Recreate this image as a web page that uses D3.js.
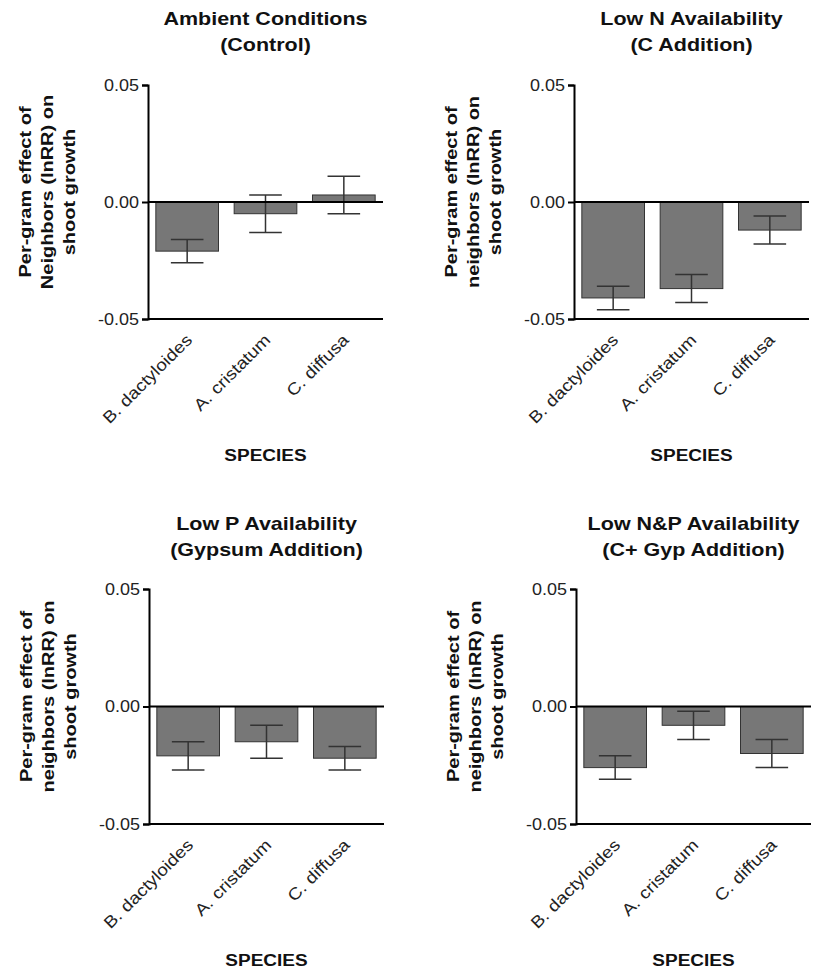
<!DOCTYPE html>
<html>
<head>
<meta charset="utf-8">
<script src="https://cdn.jsdelivr.net/npm/d3@7"></script>
<style>
  body { margin: 0; background: #fff; }
  svg { display: block; font-family: "Liberation Sans", Arial, sans-serif; }
</style>
</head>
<body>
<svg class="chart" width="816" height="970"></svg>
<script>
// species on the x axis
let species = ["B. dactyloides", "A. cristatum", "C. diffusa"];
let yTicks = [-0.05, 0.00, 0.05];

// means and standard errors per treatment
let controlMean = [-0.021, -0.005, 0.003];
let controlSE = [0.005, 0.008, 0.008];
let carbonMean = [-0.041, -0.037, -0.012];
let carbonSE = [0.005, 0.006, 0.006];
let gypsumMean = [-0.021, -0.015, -0.022];
let gypsumSE = [0.006, 0.007, 0.005];
let bothMean = [-0.026, -0.008, -0.020];
let bothSE = [0.005, 0.006, 0.006];

let titles = [
  ["Ambient Conditions", "(Control)"],
  ["Low N Availability", "(C Addition)"],
  ["Low P Availability", "(Gypsum Addition)"],
  ["Low N&P Availability", "(C+ Gyp Addition)"]
];
let yLabels = [
  ["Per-gram effect of", "Neighbors (lnRR) on", "shoot growth"],
  ["Per-gram effect of", "neighbors (lnRR) on", "shoot growth"],
  ["Per-gram effect of", "neighbors (lnRR) on", "shoot growth"],
  ["Per-gram effect of", "neighbors (lnRR) on", "shoot growth"]
];
let means = [controlMean, carbonMean, gypsumMean, bothMean];
let errors = [controlSE, carbonSE, gypsumSE, bothSE];

// where each panel's plot area sits
let panels = [
  {left: 148, top: 85, bottom: 319, titleY: 25},
  {left: 574, top: 85, bottom: 319, titleY: 25},
  {left: 149, top: 589, bottom: 824, titleY: 530},
  {left: 576, top: 589, bottom: 824, titleY: 530}
];

let svg = d3.select(".chart");
let plotWidth = 235;
let fmt = d3.format(".2f");
// the original figure's lettering is a little squashed vertically
let squash = " scale(1,0.87)";

for (let p = 0; p < panels.length; p++) {
  drawPanel(p);
}

function drawPanel(p) {
  let pos = panels[p];
  let height = pos.bottom - pos.top;
  let g = svg.append("g").attr("transform", "translate(" + pos.left + "," + pos.top + ")");

  let x = d3.scaleBand().domain(species).range([0, plotWidth]).paddingInner(0.2).paddingOuter(0.1);
  let y = d3.scaleLinear().domain([-0.05, 0.05]).range([height, 0]);

  let rows = species.map(function(s, i) {
    return {name: s, value: means[p][i], se: errors[p][i]};
  });

  // bars
  g.selectAll(".bar")
    .data(rows)
    .enter()
    .append("rect")
    .attr("class", "bar")
    .attr("x", function(d) { return x(d.name); })
    .attr("y", function(d) { return y(Math.max(0, d.value)); })
    .attr("width", x.bandwidth())
    .attr("height", function(d) { return Math.abs(y(d.value) - y(0)); })
    .style("fill", "#777777")
    .style("stroke", "#333")
    .style("stroke-width", 1);

  // error bars
  let capHalf = x.bandwidth() * 0.26;
  let err = g.selectAll(".err").data(rows).enter().append("g").attr("class", "err")
    .style("stroke", "#333").style("stroke-width", 1.5);
  err.append("line")
    .attr("x1", function(d) { return x(d.name) + x.bandwidth() / 2; })
    .attr("x2", function(d) { return x(d.name) + x.bandwidth() / 2; })
    .attr("y1", function(d) { return y(d.value + d.se); })
    .attr("y2", function(d) { return y(d.value - d.se); });
  err.append("line")
    .attr("x1", function(d) { return x(d.name) + x.bandwidth() / 2 - capHalf; })
    .attr("x2", function(d) { return x(d.name) + x.bandwidth() / 2 + capHalf; })
    .attr("y1", function(d) { return y(d.value + d.se); })
    .attr("y2", function(d) { return y(d.value + d.se); });
  err.append("line")
    .attr("x1", function(d) { return x(d.name) + x.bandwidth() / 2 - capHalf; })
    .attr("x2", function(d) { return x(d.name) + x.bandwidth() / 2 + capHalf; })
    .attr("y1", function(d) { return y(d.value - d.se); })
    .attr("y2", function(d) { return y(d.value - d.se); });

  // zero line
  g.append("line")
    .attr("x1", 0).attr("x2", plotWidth)
    .attr("y1", y(0)).attr("y2", y(0))
    .style("stroke", "#000").style("stroke-width", 2);

  // y axis
  let yAxis = g.append("g")
    .attr("class", "y-axis")
    .call(d3.axisLeft(y).tickValues(yTicks)
      .tickFormat(function(d) { return fmt(d).replace("\u2212", "-"); })
      .tickSize(6).tickPadding(3));
  yAxis.select(".domain").style("stroke", "#000").style("stroke-width", 2);
  yAxis.selectAll(".tick line").style("stroke", "#000").style("stroke-width", 2);
  yAxis.selectAll("text")
    .attr("x", null)
    .attr("transform", "translate(-9,0)" + squash)
    .style("font-size", "18px")
    .style("font-family", "Liberation Sans, Arial, sans-serif")
    .style("fill", "#222");

  // x axis at the bottom
  let xAxis = g.append("g")
    .attr("class", "x-axis")
    .attr("transform", "translate(0," + height + ")")
    .call(d3.axisBottom(x).tickSize(0).tickPadding(0));
  xAxis.select(".domain").attr("d", "M0,0H" + plotWidth).style("stroke", "#000").style("stroke-width", 2);
  xAxis.selectAll("text")
    .attr("text-anchor", "end")
    .attr("y", 0)
    .attr("dy", 0)
    .attr("transform", "translate(6,22) rotate(-45)" + squash)
    .style("font-size", "19px")
    .style("font-family", "Liberation Sans, Arial, sans-serif")
    .style("fill", "#222");

  // title, two lines
  for (let i = 0; i < 2; i++) {
    g.append("text")
      .attr("transform", "translate(" + (plotWidth / 2) + "," + (pos.titleY - pos.top + i * 26) + ")" + squash)
      .attr("text-anchor", "middle")
      .style("font", "bold 21.5px 'Liberation Sans', Arial, sans-serif")
      .style("fill", "#111")
      .text(titles[p][i]);
  }

  // y label, three lines
  let cy = height / 2 - 10;
  let offsets = [-117, -95, -73];
  for (let i = 0; i < 3; i++) {
    g.append("text")
      .attr("transform", "translate(" + offsets[i] + "," + cy + ") rotate(-90)" + squash)
      .attr("text-anchor", "middle")
      .style("font", "bold 20px 'Liberation Sans', Arial, sans-serif")
      .style("fill", "#111")
      .text(yLabels[p][i]);
  }

  // x label
  g.append("text")
    .attr("transform", "translate(" + (plotWidth / 2) + "," + (height + 142) + ")" + squash)
    .attr("text-anchor", "middle")
    .style("font", "bold 19px 'Liberation Sans', Arial, sans-serif")
    .style("fill", "#111")
    .text("SPECIES");
}
</script>
</body>
</html>
